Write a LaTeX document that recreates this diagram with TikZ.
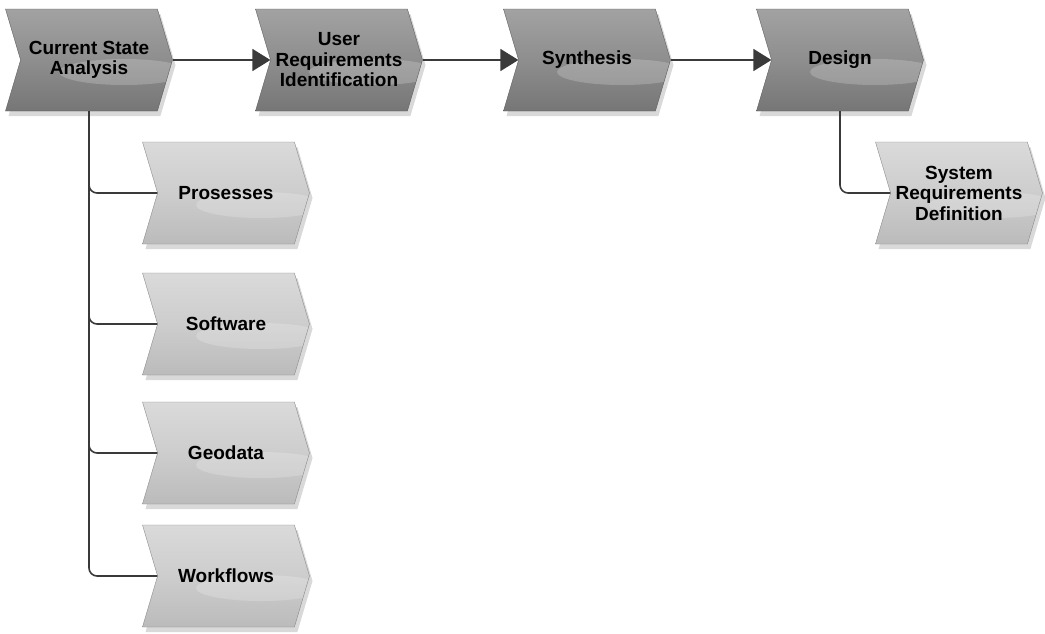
\documentclass[tikz,border=0pt]{standalone}
\usepackage{fontspec}
\setmainfont{Liberation Sans}
\usetikzlibrary{shapes.symbols,shadows,arrows.meta}
\definecolor{procfill}{HTML}{8E8E8E}
\definecolor{proctop}{HTML}{A2A2A2}
\definecolor{procbot}{HTML}{767676}
\definecolor{procline}{HTML}{5E5E5E}
\definecolor{subfill}{HTML}{CDCDCD}
\definecolor{subtop}{HTML}{DADADA}
\definecolor{subbot}{HTML}{BBBBBB}
\definecolor{subline}{HTML}{8A8A8A}
\definecolor{wire}{HTML}{3A3A3A}
\tikzset{
  chev/.style={signal, signal from=west, signal to=east, signal pointer angle=147,
    minimum width=167pt, minimum height=102pt, inner sep=0pt, align=center,
    font=\fontsize{19}{20.5}\selectfont\bfseries,
    drop shadow={shadow xshift=3pt, shadow yshift=-5pt, opacity=0.3},
    path picture={\fill[white,opacity=0.2]
      ([xshift=35pt,yshift=-12pt]path picture bounding box.center) ellipse (65 and 13);}},
  proc/.style={chev, draw=procline, top color=proctop, bottom color=procbot, middle color=procfill},
  sub/.style={chev, draw=subline, top color=subtop, bottom color=subbot, middle color=subfill},
  flow/.style={draw=wire, line width=1.6pt, -{Triangle[length=18pt,width=22pt]}},
  link/.style={draw=wire, line width=1.6pt, rounded corners=8pt},
}
\begin{document}
\begin{tikzpicture}[x=1pt,y=-1pt]
  \useasboundingbox (0,0) rectangle (1045,633);
  % main steps
  \node[proc] (csa) at (89,60) {Current State\\Analysis};
  \node[proc] (ur) at (339,60) {User\\Requirements\\Identification};
  \node[proc] (syn) at (587,60) {Synthesis};
  \node[proc] (des) at (840,60) {Design};
  % sub steps
  \node[sub] (pro) at (226,193) {Prosesses};
  \node[sub] (sof) at (226,324) {Software};
  \node[sub] (geo) at (226,453) {Geodata};
  \node[sub] (wor) at (226,576) {Workflows};
  \node[sub] (srd) at (959,193) {System\\Requirements\\Definition};
  % connectors
  \draw[flow] (csa.east) -- (ur.west);
  \draw[flow] (ur.east) -- (syn.west);
  \draw[flow] (syn.east) -- (des.west);
  \draw[link] (csa.south) |- (pro.west);
  \draw[link] (csa.south) |- (sof.west);
  \draw[link] (csa.south) |- (geo.west);
  \draw[link] (csa.south) |- (wor.west);
  \draw[link] (des.south) |- (srd.west);
\end{tikzpicture}
\end{document}
